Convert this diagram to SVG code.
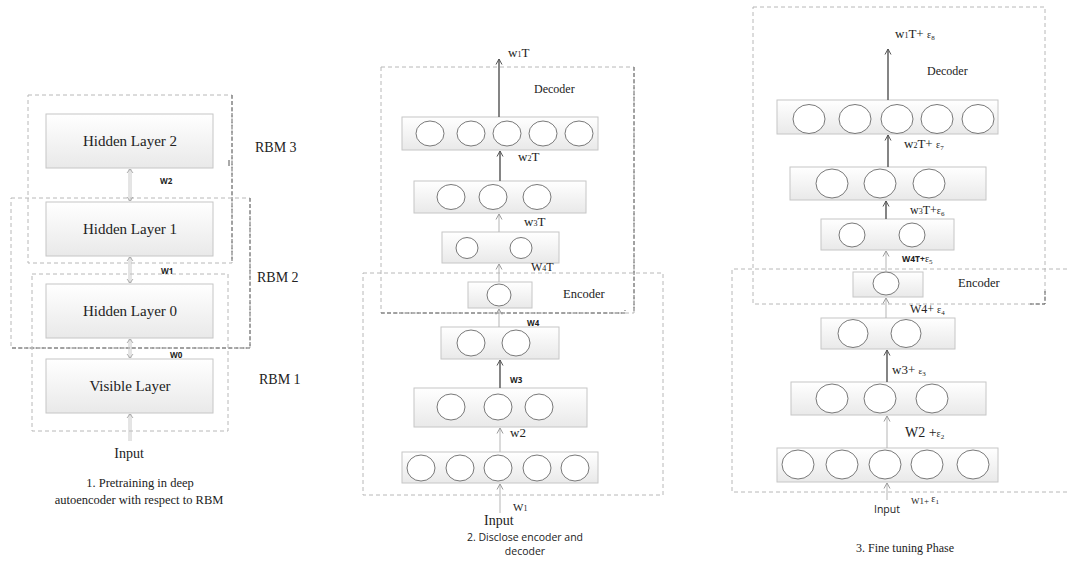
<svg xmlns="http://www.w3.org/2000/svg" width="1067" height="562" viewBox="0 0 1067 562">
  <defs>
    <linearGradient id="boxFill" x1="0" y1="0" x2="0" y2="1">
      <stop offset="0" stop-color="#ffffff"/>
      <stop offset="1" stop-color="#e9e9e9"/>
    </linearGradient>
    <marker id="headLight" viewBox="0 0 8 8" refX="7.5" refY="4" markerWidth="8" markerHeight="8" markerUnits="userSpaceOnUse" orient="auto-start-reverse">
      <path d="M2,1 L7.5,4 L2,7" fill="none" stroke="#9a9a9a" stroke-width="1"/>
    </marker>
    <marker id="headDark" viewBox="0 0 8 8" refX="7.5" refY="4" markerWidth="8" markerHeight="8" markerUnits="userSpaceOnUse" orient="auto">
      <path d="M2,1 L7.5,4 L2,7" fill="none" stroke="#555" stroke-width="1"/>
    </marker>
  </defs>
  <style>
    .layer { fill: url(#boxFill); stroke: #c6c6c6; stroke-width: 1; }
    .unit { fill: #ffffff; stroke: #6a6a6a; stroke-width: 0.9; }
    .group { fill: none; stroke: #b8b8b8; stroke-width: 1; stroke-dasharray: 4 3; }
    .groupDark { fill: none; stroke: #666; stroke-width: 1; stroke-dasharray: 4 2; }
    .serif { font-family: "Liberation Serif", "Times New Roman", serif; fill: #222; }
    .sans { font-family: "Open Sans", "Liberation Sans", sans-serif; fill: #222; }
    .light { stroke: #b5b5b5; stroke-width: 1; fill: none; marker-end: url(#headLight); }
    .dark { stroke: #666; stroke-width: 1.6; fill: none; marker-end: url(#headDark); }
    .both { stroke: #c4c4c4; stroke-width: 0.9; fill: none; }
  </style>

  <rect width="1067" height="562" fill="#ffffff"/>

  <!-- ============ Panel 1: RBM pretraining ============ -->
  <g id="rbm-groups">
    <rect class="group" x="28" y="95" width="204" height="168"/>
    <line class="groupDark" x1="232" y1="95" x2="232" y2="263"/>
    <line x1="229" y1="160" x2="229" y2="166" stroke="#555" stroke-width="1"/>
    <rect class="group" x="11" y="198" width="239" height="150"/>
    <polyline class="groupDark" points="250,198 250,348 11,348"/>
    <rect class="group" x="32" y="274" width="196" height="157"/>
  </g>

  <g id="hidden-layer-2">
    <rect class="layer" x="46" y="114" width="167" height="54"/>
    <text class="serif" x="130" y="146" font-size="15" text-anchor="middle">Hidden Layer 2</text>
  </g>
  <g id="hidden-layer-1">
    <rect class="layer" x="46" y="202" width="167" height="54"/>
    <text class="serif" x="130" y="234" font-size="15" text-anchor="middle">Hidden Layer 1</text>
  </g>
  <g id="hidden-layer-0">
    <rect class="layer" x="46" y="284" width="167" height="54"/>
    <text class="serif" x="130" y="316" font-size="15" text-anchor="middle">Hidden Layer 0</text>
  </g>
  <g id="visible-layer">
    <rect class="layer" x="46" y="359" width="167" height="54"/>
    <text class="serif" x="130" y="391" font-size="15" text-anchor="middle">Visible Layer</text>
  </g>

  <g id="rbm-labels">
    <text class="serif" x="255" y="152" font-size="14">RBM 3</text>
    <text class="serif" x="257" y="282" font-size="14">RBM 2</text>
    <text class="serif" x="259" y="384" font-size="14">RBM 1</text>
    <text class="sans" x="160" y="184" font-size="8" font-weight="bold">W2</text>
    <text class="sans" x="161" y="274" font-size="8" font-weight="bold">W1</text>
    <text class="sans" x="170" y="358" font-size="8" font-weight="bold">W0</text>
    <text class="serif" x="129" y="458" font-size="14" text-anchor="middle">Input</text>
    <text class="serif" x="140" y="487" font-size="12.5" text-anchor="middle">1. Pretraining in deep</text>
    <text class="serif" x="139" y="504" font-size="12.5" text-anchor="middle">autoencoder with respect to RBM</text>
  </g>

  <g id="rbm-connectors">
    <line class="both" x1="129" y1="169" x2="129" y2="201"/>
    <line class="both" x1="131" y1="169" x2="131" y2="201"/>
    <path d="M127,173 L130,169 L133,173 M127,197 L130,201 L133,197" fill="none" stroke="#999" stroke-width="0.8"/>
    <line class="both" x1="129" y1="257" x2="129" y2="283"/>
    <line class="both" x1="131" y1="257" x2="131" y2="283"/>
    <path d="M127,261 L130,257 L133,261 M127,279 L130,283 L133,279" fill="none" stroke="#999" stroke-width="0.8"/>
    <line class="both" x1="129" y1="339" x2="129" y2="358"/>
    <line class="both" x1="131" y1="339" x2="131" y2="358"/>
    <path d="M127,343 L130,339 L133,343 M127,354 L130,358 L133,354" fill="none" stroke="#999" stroke-width="0.8"/>
    <line class="both" x1="129" y1="441" x2="129" y2="414"/>
    <line class="both" x1="131" y1="441" x2="131" y2="414"/>
    <path d="M127,418 L130,414 L133,418" fill="none" stroke="#999" stroke-width="0.8"/>
  </g>

  <!-- ============ Panel 2: encoder / decoder ============ -->
  <g id="ae-groups">
    <rect class="group" x="381" y="67" width="253" height="246"/>
    <line class="groupDark" x1="634" y1="67" x2="634" y2="313"/>
    <polyline class="groupDark" points="381,313 625,313 625,310"/>
    <rect class="group" x="363" y="273" width="300" height="222"/>
  </g>

  <g id="ae-dec-5">
    <rect class="layer" x="402" y="117" width="196" height="33"/>
    <ellipse class="unit" cx="430" cy="133.5" rx="14" ry="12.5"/>
    <ellipse class="unit" cx="471" cy="133.5" rx="14" ry="12.5"/>
    <ellipse class="unit" cx="507" cy="133.5" rx="14" ry="12.5"/>
    <ellipse class="unit" cx="543" cy="133.5" rx="14" ry="12.5"/>
    <ellipse class="unit" cx="579" cy="133.5" rx="14" ry="12.5"/>
  </g>
  <g id="ae-dec-3">
    <rect class="layer" x="414" y="181" width="172" height="32"/>
    <ellipse class="unit" cx="451" cy="197" rx="14" ry="12.5"/>
    <ellipse class="unit" cx="493" cy="197" rx="14" ry="12.5"/>
    <ellipse class="unit" cx="537" cy="197" rx="14" ry="12.5"/>
  </g>
  <g id="ae-dec-2">
    <rect class="layer" x="442" y="232" width="117" height="31"/>
    <ellipse class="unit" cx="467" cy="248" rx="11" ry="10.5"/>
    <ellipse class="unit" cx="521" cy="248" rx="11" ry="10.5"/>
  </g>
  <g id="ae-code">
    <rect class="layer" x="468" y="282" width="64" height="26"/>
    <ellipse class="unit" cx="499" cy="295" rx="12" ry="11"/>
  </g>
  <g id="ae-enc-2">
    <rect class="layer" x="441" y="327" width="118" height="32"/>
    <ellipse class="unit" cx="471" cy="343" rx="14" ry="13"/>
    <ellipse class="unit" cx="516" cy="343" rx="14" ry="13"/>
  </g>
  <g id="ae-enc-3">
    <rect class="layer" x="414" y="388" width="173" height="39"/>
    <ellipse class="unit" cx="451" cy="407" rx="14" ry="13"/>
    <ellipse class="unit" cx="498" cy="407" rx="14" ry="13"/>
    <ellipse class="unit" cx="539" cy="407" rx="14" ry="13"/>
  </g>
  <g id="ae-enc-5">
    <rect class="layer" x="402" y="452" width="196" height="31"/>
    <ellipse class="unit" cx="421" cy="468" rx="14" ry="13"/>
    <ellipse class="unit" cx="460" cy="468" rx="14" ry="13"/>
    <ellipse class="unit" cx="498" cy="468" rx="14" ry="13"/>
    <ellipse class="unit" cx="537" cy="468" rx="14" ry="13"/>
    <ellipse class="unit" cx="575" cy="468" rx="14" ry="13"/>
  </g>

  <g id="ae-labels">
    <text class="serif" x="508" y="57" font-size="13">w<tspan font-size="8">1</tspan>T</text>
    <text class="serif" x="534" y="93" font-size="12">Decoder</text>
    <text class="serif" x="518" y="161" font-size="13">w<tspan font-size="8">2</tspan>T</text>
    <text class="serif" x="524" y="226" font-size="13">w<tspan font-size="8">3</tspan>T</text>
    <text class="serif" x="531" y="271" font-size="12">W<tspan font-size="8">4</tspan>T</text>
    <text class="serif" x="563" y="298" font-size="12.5">Encoder</text>
    <text class="sans" x="527" y="326" font-size="8" font-weight="bold">W4</text>
    <text class="sans" x="510" y="383" font-size="8" font-weight="bold">W3</text>
    <text class="serif" x="510" y="437" font-size="13">w2</text>
    <text class="serif" x="513" y="511" font-size="11">W<tspan font-size="8">1</tspan></text>
    <text class="serif" x="484" y="525" font-size="14">Input</text>
    <text class="sans" x="525" y="541" font-size="10.5" text-anchor="middle">2.  Disclose encoder and</text>
    <text class="sans" x="525" y="555" font-size="10.5" text-anchor="middle">decoder</text>
  </g>

  <g id="ae-connectors">
    <line class="dark" x1="499" y1="117" x2="499" y2="59"/>
    <line class="dark" x1="500" y1="181" x2="500" y2="151"/>
    <line class="light" x1="499" y1="232" x2="499" y2="214"/>
    <line class="light" x1="499" y1="282" x2="499" y2="264"/>
    <line class="light" x1="499" y1="327" x2="499" y2="309"/>
    <line class="dark" x1="500" y1="388" x2="500" y2="360"/>
    <line class="light" x1="500" y1="452" x2="500" y2="428"/>
    <line class="light" x1="500" y1="513" x2="500" y2="484"/>
  </g>

  <!-- ============ Panel 3: fine tuning ============ -->
  <g id="ft-groups">
    <rect class="group" x="753" y="7" width="292" height="297"/>
    <polyline class="groupDark" points="1030,304 1045,304 1045,290"/>
    <path class="group" d="M1067,269 L732,269 L732,492 L1067,492"/>
  </g>

  <g id="ft-dec-5">
    <rect class="layer" x="777" y="100" width="221" height="34"/>
    <ellipse class="unit" cx="809" cy="119" rx="16" ry="14.5"/>
    <ellipse class="unit" cx="855" cy="119" rx="16" ry="14.5"/>
    <ellipse class="unit" cx="897" cy="119" rx="16" ry="14.5"/>
    <ellipse class="unit" cx="937" cy="119" rx="16" ry="14.5"/>
    <ellipse class="unit" cx="978" cy="119" rx="16" ry="14.5"/>
  </g>
  <g id="ft-dec-3">
    <rect class="layer" x="790" y="167" width="196" height="33"/>
    <ellipse class="unit" cx="832" cy="183.5" rx="16" ry="14.5"/>
    <ellipse class="unit" cx="880" cy="183.5" rx="16" ry="14.5"/>
    <ellipse class="unit" cx="929" cy="183.5" rx="16" ry="14.5"/>
  </g>
  <g id="ft-dec-2">
    <rect class="layer" x="821" y="219" width="133" height="31"/>
    <ellipse class="unit" cx="852" cy="235" rx="13" ry="12"/>
    <ellipse class="unit" cx="912" cy="235" rx="13" ry="12"/>
  </g>
  <g id="ft-code">
    <rect class="layer" x="853" y="272" width="70" height="25"/>
    <ellipse class="unit" cx="886" cy="283.5" rx="13" ry="11.5"/>
  </g>
  <g id="ft-enc-2">
    <rect class="layer" x="821" y="318" width="134" height="31"/>
    <ellipse class="unit" cx="853" cy="333.5" rx="15" ry="14"/>
    <ellipse class="unit" cx="906" cy="333.5" rx="15" ry="14"/>
  </g>
  <g id="ft-enc-3">
    <rect class="layer" x="791" y="382" width="195" height="33"/>
    <ellipse class="unit" cx="832" cy="398.5" rx="16" ry="14.5"/>
    <ellipse class="unit" cx="880" cy="398.5" rx="16" ry="14.5"/>
    <ellipse class="unit" cx="932" cy="398.5" rx="16" ry="14.5"/>
  </g>
  <g id="ft-enc-5">
    <rect class="layer" x="777" y="448" width="221" height="34"/>
    <ellipse class="unit" cx="798" cy="464.5" rx="16" ry="14.5"/>
    <ellipse class="unit" cx="842" cy="464.5" rx="16" ry="14.5"/>
    <ellipse class="unit" cx="885" cy="464.5" rx="16" ry="14.5"/>
    <ellipse class="unit" cx="927" cy="464.5" rx="16" ry="14.5"/>
    <ellipse class="unit" cx="973" cy="464.5" rx="16" ry="14.5"/>
  </g>

  <g id="ft-labels">
    <text class="serif" x="895" y="38" font-size="13">w<tspan font-size="8">1</tspan>T+ <tspan font-size="10">ε</tspan><tspan font-size="7" dy="2">8</tspan></text>
    <text class="serif" x="927" y="75" font-size="12">Decoder</text>
    <text class="serif" x="904" y="148" font-size="13">w<tspan font-size="8">2</tspan>T+ <tspan font-size="10">ε</tspan><tspan font-size="7" dy="2">7</tspan></text>
    <text class="serif" x="910" y="214" font-size="12">w<tspan font-size="8">3</tspan>T+<tspan font-size="10">ε</tspan><tspan font-size="7" dy="2">6</tspan></text>
    <text class="sans" x="902" y="262" font-size="8.5" font-weight="bold">W4T+<tspan class="serif" font-weight="normal" font-size="10">ε</tspan><tspan class="serif" font-weight="normal" font-size="7" dy="2">5</tspan></text>
    <text class="serif" x="958" y="287" font-size="12.5">Encoder</text>
    <text class="serif" x="910" y="313" font-size="12">W4+ <tspan font-size="10">ε</tspan><tspan font-size="7" dy="2">4</tspan></text>
    <text class="serif" x="892" y="374" font-size="13">w3+ <tspan font-size="9">ε</tspan><tspan font-size="7" dy="2">3</tspan></text>
    <text class="serif" x="905" y="437" font-size="14">W2 +<tspan font-size="10">ε</tspan><tspan font-size="7" dy="2">2</tspan></text>
    <text class="serif" x="911" y="504" font-size="9">W1+ <tspan font-size="10" dy="-2">ε</tspan><tspan font-size="7" dy="2">1</tspan></text>
    <text class="sans" x="874" y="513" font-size="10.5">Input</text>
    <text class="serif" x="905" y="552" font-size="12" text-anchor="middle">3. Fine tuning Phase</text>
  </g>

  <g id="ft-connectors">
    <line class="dark" x1="888" y1="100" x2="888" y2="49"/>
    <line class="dark" x1="888" y1="167" x2="888" y2="135"/>
    <line class="dark" x1="886" y1="219" x2="886" y2="201"/>
    <line class="light" x1="886" y1="272" x2="886" y2="251"/>
    <line class="light" x1="886" y1="318" x2="886" y2="298"/>
    <line class="dark" x1="887" y1="382" x2="887" y2="350"/>
    <line class="light" x1="887" y1="448" x2="887" y2="416"/>
    <line class="light" x1="887" y1="500" x2="887" y2="483"/>
  </g>
</svg>
